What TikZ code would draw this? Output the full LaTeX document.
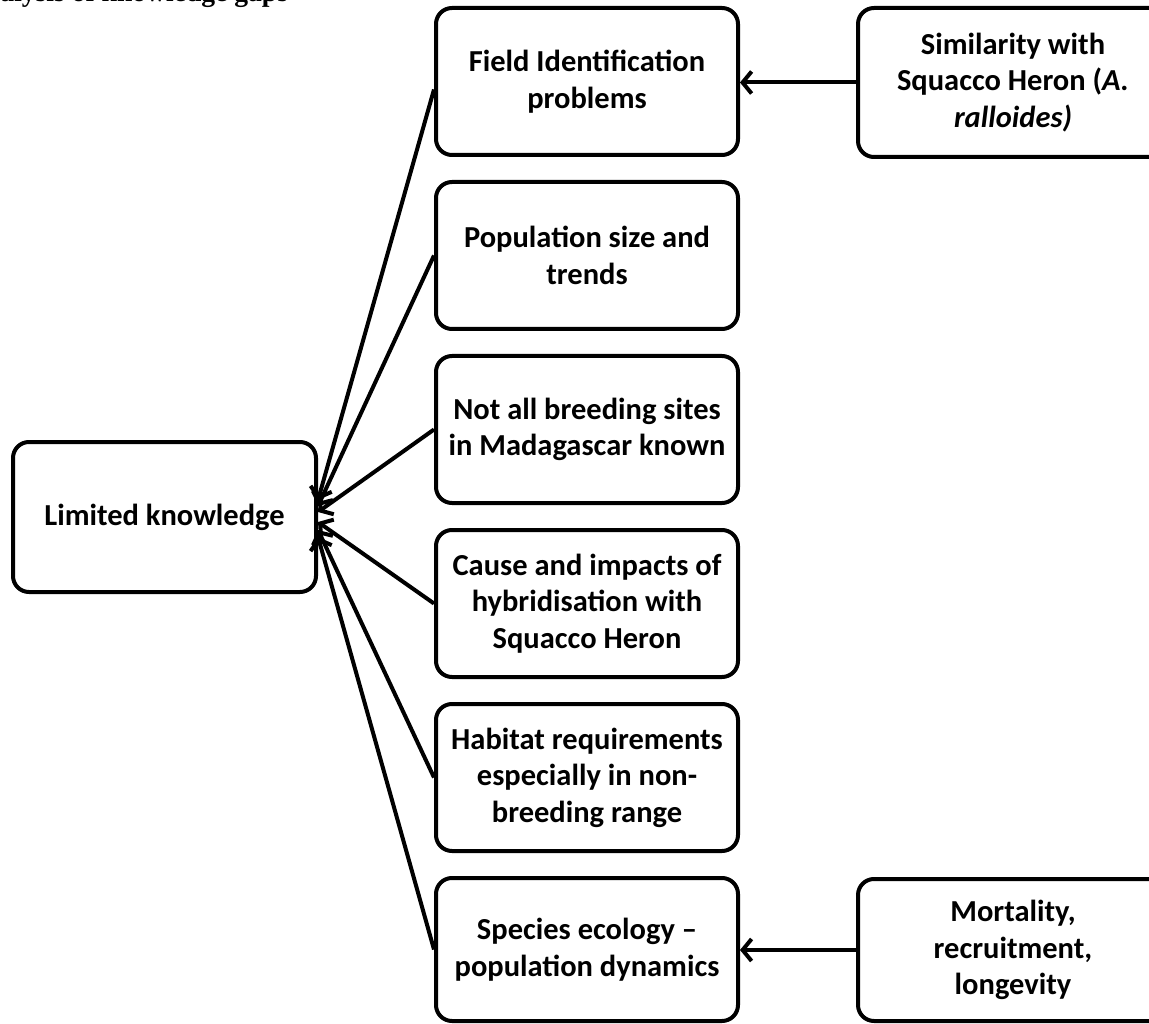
\documentclass[tikz,border=0pt]{standalone}
\usepackage{fontspec}
\setmainfont{Carlito}
\newfontfamily\titlefont{Liberation Serif}
\usetikzlibrary{arrows.meta,calc}
\begin{document}
\begin{tikzpicture}[x=1pt,y=-1pt,
  box/.style={draw, line width=4pt, rounded corners=16pt, minimum width=302pt,
    minimum height=147pt, align=center, inner sep=0pt,
    font=\fontsize{30.5}{36.5}\selectfont\bfseries},
  link/.style={line width=4pt, -{Straight Barb[length=9pt,width=22pt,line width=4pt]}}]
\useasboundingbox (0,0) rectangle (1149,1024);
% title (cut off at the top of the picture)
\node[anchor=base west, inner sep=0pt, font=\titlefont\bfseries\fontsize{27.6}{30}\selectfont] (title) at (-35,2) {Analysis of knowledge gaps};
% left
\node[box, minimum width=303pt, minimum height=150pt] (lk) at (164.5,517) {Limited knowledge};
% middle column
\node[box] (m1) at (587,81.5) {Field Identification\\problems};
\node[box] (m2) at (587,255.5) {Population size and\\trends};
\node[box] (m3) at (587,429.5) {Not all breeding sites\\in Madagascar known};
\node[box] (m4) at (587,603.5) {Cause and impacts of\\hybridisation with\\Squacco Heron};
\node[box] (m5) at (587,777.5) {Habitat requirements\\especially in non-\\breeding range};
\node[box, minimum height=143pt] (m6) at (587,949.5) {Species ecology --\\population dynamics};
% right column
\node[box, minimum width=310pt, minimum height=149pt] (r1) at (1013,82.5) {Similarity with\\Squacco Heron (\textit{A.}\\\textit{ralloides)}};
\node[box, minimum width=310pt, minimum height=142pt] (r2) at (1013,950) {Mortality,\\recruitment,\\longevity};
% arrow tips on the left box
\coordinate (t1) at ($(lk.east)+(0,-17)$);
\coordinate (t2) at ($(lk.east)+(0,-11)$);
\coordinate (t3) at ($(lk.east)+(0,-5)$);
\coordinate (t4) at ($(lk.east)+(0,5)$);
\coordinate (t5) at ($(lk.east)+(0,13)$);
\coordinate (t6) at ($(lk.east)+(0,20)$);
\draw[link] ($(m1.west)+(0,8)$) -- (t1);
\draw[link] (m2.west) -- (t2);
\draw[link] (m3.west) -- (t3);
\draw[link] (m4.west) -- (t4);
\draw[link] (m5.west) -- (t5);
\draw[link] (m6.west) -- (t6);
\draw[link] (r1.west) -- (r1.west -| m1.east);
\draw[link] (r2.west) -- (r2.west -| m6.east);
\end{tikzpicture}
\end{document}
